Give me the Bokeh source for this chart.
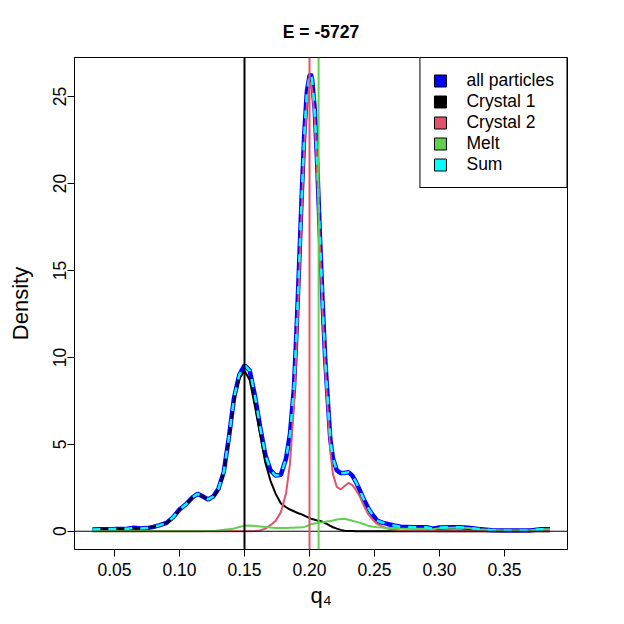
from bokeh.plotting import figure
from bokeh.models import (Range1d, FixedTicker, PrintfTickFormatter, Span,
                          Legend, LegendItem)
from bokeh.embed import file_html
from bokeh.resources import INLINE

# ---------------- data ----------------
title_text = "E = -5727"
x_label = "q\u2084"
y_label = "Density"

q4 = [0.033, 0.040, 0.050, 0.060, 0.065, 0.070, 0.075, 0.080, 0.085, 0.090,
      0.095, 0.100, 0.105, 0.110, 0.114, 0.118, 0.122, 0.126, 0.130, 0.134,
      0.138, 0.142, 0.146, 0.150, 0.154, 0.158, 0.162, 0.166, 0.170, 0.174,
      0.178, 0.182, 0.185, 0.188, 0.190, 0.192, 0.194, 0.196, 0.198, 0.200,
      0.201, 0.202, 0.204, 0.206, 0.208, 0.210, 0.212, 0.214, 0.216, 0.218,
      0.221, 0.224, 0.227, 0.230, 0.233, 0.236, 0.239, 0.242, 0.245, 0.248,
      0.252, 0.256, 0.260, 0.265, 0.270, 0.280, 0.290, 0.295, 0.300, 0.310,
      0.316, 0.322, 0.330, 0.340, 0.350, 0.360, 0.370, 0.378, 0.385]

all_particles = [0.10, 0.12, 0.13, 0.15, 0.20, 0.16, 0.18, 0.25, 0.35, 0.48,
                 0.80, 1.25, 1.55, 1.95, 2.15, 2.00, 1.83, 2.00, 2.45, 3.40,
                 5.40, 7.70, 9.00, 9.55, 9.25, 7.80, 6.00, 4.40, 3.50, 3.20,
                 3.25, 4.20, 5.60, 8.20, 11.50, 15.30, 19.30, 22.90, 25.30, 26.20,
                 26.30, 26.00, 24.30, 21.00, 17.00, 13.30, 10.00, 7.60, 5.30, 4.20,
                 3.50, 3.35, 3.35, 3.40, 3.20, 2.80, 2.30, 1.80, 1.35, 1.00,
                 0.62, 0.50, 0.42, 0.33, 0.26, 0.23, 0.23, 0.14, 0.22, 0.23,
                 0.23, 0.20, 0.13, 0.06, 0.04, 0.04, 0.05, 0.12, 0.12]

crystal_1 = [0.10, 0.12, 0.13, 0.15, 0.20, 0.16, 0.18, 0.25, 0.35, 0.48,
             0.80, 1.25, 1.55, 1.95, 2.15, 2.00, 1.83, 1.98, 2.40, 3.32,
             5.28, 7.54, 8.76, 9.23, 8.70, 7.20, 5.60, 3.95, 2.90, 2.15,
             1.60, 1.38, 1.25, 1.15, 1.08, 1.02, 0.97, 0.90, 0.83, 0.76,
             0.73, 0.70, 0.66, 0.62, 0.59, 0.55, 0.47, 0.40, 0.31, 0.23,
             0.15, 0.08, 0.03, 0.01, 0.01, 0.00, 0.00, 0.00, 0.00, 0.00,
             0.00, 0.00, 0.00, 0.00, 0.00, 0.00, 0.00, 0.00, 0.00, 0.00,
             0.00, 0.00, 0.00, 0.00, 0.00, 0.00, 0.00, 0.00, 0.00]

crystal_2 = [0.00, 0.00, 0.00, 0.00, 0.00, 0.00, 0.00, 0.00, 0.00, 0.00,
             0.00, 0.00, 0.00, 0.00, 0.00, 0.00, 0.00, 0.00, 0.00, 0.00,
             0.00, 0.00, 0.00, 0.00, 0.00, 0.01, 0.05, 0.15, 0.35, 0.60,
             1.10, 2.20, 3.90, 7.20, 10.60, 14.40, 18.40, 22.10, 24.60, 25.60,
             25.80, 25.40, 23.70, 20.40, 16.40, 12.70, 9.40, 7.00, 4.60, 3.30,
             2.55, 2.40, 2.60, 2.78, 2.65, 2.35, 1.95, 1.45, 1.00, 0.72,
             0.42, 0.26, 0.16, 0.09, 0.05, 0.02, 0.01, 0.01, 0.00, 0.00,
             0.00, 0.00, 0.00, 0.00, 0.00, 0.00, 0.00, 0.00, 0.00]

melt = [0.00, 0.00, 0.00, 0.00, 0.00, 0.00, 0.00, 0.00, 0.00, 0.00,
        0.00, 0.00, 0.00, 0.00, 0.00, 0.00, 0.01, 0.02, 0.05, 0.08,
        0.12, 0.16, 0.24, 0.32, 0.33, 0.30, 0.27, 0.24, 0.21, 0.19,
        0.19, 0.19, 0.20, 0.20, 0.21, 0.22, 0.23, 0.25, 0.30, 0.36,
        0.40, 0.42, 0.45, 0.47, 0.50, 0.52, 0.55, 0.57, 0.58, 0.62,
        0.67, 0.71, 0.72, 0.66, 0.60, 0.54, 0.48, 0.40, 0.32, 0.27,
        0.23, 0.21, 0.19, 0.18, 0.16, 0.14, 0.15, 0.12, 0.18, 0.20,
        0.21, 0.18, 0.12, 0.07, 0.05, 0.05, 0.06, 0.11, 0.12]

sum_density = [0.10, 0.12, 0.13, 0.15, 0.20, 0.16, 0.18, 0.25, 0.35, 0.48,
               0.80, 1.25, 1.55, 1.95, 2.15, 2.00, 1.83, 2.00, 2.45, 3.40,
               5.40, 7.70, 9.00, 9.55, 9.25, 7.80, 6.00, 4.40, 3.50, 3.20,
               3.25, 4.20, 5.60, 8.20, 11.50, 15.30, 19.30, 22.90, 25.30, 26.20,
               26.30, 26.00, 24.30, 21.00, 17.00, 13.30, 10.00, 7.60, 5.30, 4.20,
               3.50, 3.35, 3.35, 3.40, 3.20, 2.80, 2.30, 1.80, 1.35, 1.00,
               0.62, 0.50, 0.42, 0.33, 0.26, 0.23, 0.23, 0.14, 0.22, 0.23,
               0.23, 0.20, 0.13, 0.06, 0.04, 0.04, 0.05, 0.12, 0.12]

# reference (vertical) lines: crystal 1, crystal 2, melt
ref_positions = [0.150, 0.200, 0.207]
ref_colors = ["#000000", "#DF536B", "#61D04F"]

x_ticks = [0.05, 0.10, 0.15, 0.20, 0.25, 0.30, 0.35]
y_ticks = [0, 5, 10, 15, 20, 25]

legend_labels = ["all particles", "Crystal 1", "Crystal 2", "Melt", "Sum"]
legend_colors = ["#0000FF", "#000000", "#DF536B", "#61D04F", "#00FFFF"]

FONT = "Liberation Sans"

# ---------------- figure ----------------
p = figure(width=616, height=616, output_backend="svg", toolbar_location=None,
           x_range=Range1d(0.01923, 0.39846), y_range=Range1d(-1.05, 27.25),
           min_border_left=74, min_border_right=49, min_border_top=57,
           min_border_bottom=67)

p.background_fill_color = "white"
p.border_fill_color = "white"
p.outline_line_color = "black"
p.outline_line_width = 1
p.xgrid.visible = False
p.ygrid.visible = False

p.title.text = title_text
p.title.align = "center"
p.title.text_font = FONT
p.title.text_font_size = "17.5px"
p.title.text_font_style = "bold"
p.title.text_color = "black"
p.title.standoff = 31

for ax in (p.xaxis[0], p.yaxis[0]):
    ax.axis_line_color = "black"
    ax.major_tick_out = 7
    ax.major_tick_in = 0
    ax.minor_tick_out = 0
    ax.minor_tick_in = 0
    ax.major_tick_line_color = "black"
    ax.major_label_text_font = FONT
    ax.major_label_text_font_size = "17.5px"
    ax.major_label_text_color = "black"
    ax.axis_label_text_font = FONT
    ax.axis_label_text_font_size = "22px"
    ax.axis_label_text_font_style = "normal"
    ax.axis_label_text_color = "black"

p.xaxis.ticker = FixedTicker(ticks=x_ticks)
p.xaxis.formatter = PrintfTickFormatter(format="%.2f")
p.xaxis.major_label_standoff = 6
p.xaxis.axis_label = x_label
p.xaxis.axis_label_standoff = 4

p.yaxis.ticker = FixedTicker(ticks=y_ticks)
p.yaxis.major_label_orientation = "vertical"
p.yaxis.major_label_standoff = 1
p.yaxis.axis_label = y_label
p.yaxis.axis_label_standoff = 18

# ---------------- curves ----------------
p.line(q4, all_particles, line_color="#0000FF", line_width=4.5)
p.line(q4, crystal_1, line_color="#000000", line_width=2)
p.line(q4, crystal_2, line_color="#DF536B", line_width=2)
p.line(q4, melt, line_color="#61D04F", line_width=2)
p.line(q4, sum_density, line_color="#00FFFF", line_width=2.5, line_dash="8 8")

# ---------------- reference lines ----------------
p.add_layout(Span(location=0, dimension="width", line_color="black", line_width=1))
for pos, col in zip(ref_positions, ref_colors):
    p.add_layout(Span(location=pos, dimension="height", line_color=col, line_width=2))

# ---------------- legend (filled boxes) ----------------
nan = float("nan")
items = []
for lab, col in zip(legend_labels, legend_colors):
    r = p.quad(left=[nan], right=[nan], top=[nan], bottom=[nan], fill_color=col,
               line_color="black", line_width=1)
    items.append(LegendItem(label=lab, renderers=[r]))

legend = Legend(items=items, location="top_right", margin=0, padding=12,
                spacing=0, glyph_width=15, glyph_height=15, label_standoff=19,
                label_text_font=FONT, label_text_font_size="17.5px",
                label_text_color="black",
                label_height=19, border_line_color="black", border_line_width=1,
                border_line_alpha=1, background_fill_color="white",
                background_fill_alpha=1)
p.add_layout(legend)

open("out.html", "w").write(file_html(p, INLINE))
